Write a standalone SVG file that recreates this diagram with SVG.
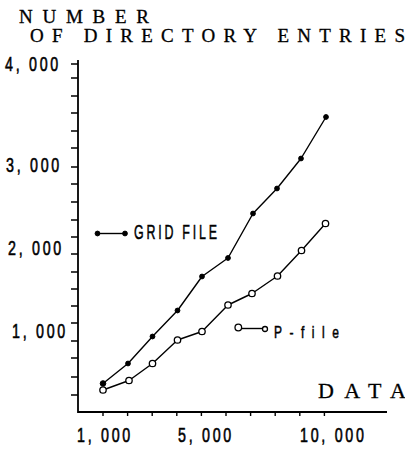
<svg xmlns="http://www.w3.org/2000/svg" width="405" height="450" viewBox="0 0 405 450">
  <style>
    .axis { fill: none; stroke: #000; stroke-width: 1.8; }
    .tick { fill: none; stroke: #000; stroke-width: 1.4; }
    .series { fill: none; stroke: #000; stroke-width: 1.4; stroke-linejoin: round; }
    .dot { fill: #000; stroke: #000; stroke-width: 1; }
    .ring { fill: #fff; stroke: #000; stroke-width: 1.3; }
    .title { font-family: "Liberation Serif", serif; font-size: 19px; fill: #000; stroke: #000; stroke-width: 0.3px; }
    .num { font-family: "Liberation Sans", sans-serif; font-size: 21px; letter-spacing: 4px; fill: #000; stroke: #000; stroke-width: 0.6px; }
    .key { font-family: "Liberation Sans", sans-serif; fill: #000; stroke: #000; stroke-width: 0.5px; }
  </style>

  <!-- axis titles -->
  <g id="titles">
    <text class="title" x="19" y="23" textLength="130" lengthAdjust="spacing">NUMBER</text>
    <text class="title" x="30" y="42" textLength="375" lengthAdjust="spacing">OF  DIRECTORY  ENTRIES</text>
    <text class="title" x="318" y="398" style="font-size:22px" textLength="88" lengthAdjust="spacing">DATA</text>
  </g>

  <!-- axes -->
  <g id="axes">
    <path class="axis" d="M78,60 V412 H387"/>
    <path class="tick" d="M71,64 H78 M71,78 H78 M71,96 H78 M71,113 H78 M71,131 H78 M71,148 H78 M71,167 H78 M71,184 H78 M71,202 H78 M71,220 H78 M71,237 H78 M71,254 H78 M71,272 H78 M71,289 H78 M71,306 H78 M71,323 H78 M71,341 H78 M71,358 H78 M71,377 H78 M71,395 H78"/>
    <path class="tick" d="M103,412 v4 M127.6,412 v4 M152.2,412 v4 M176.8,412 v4 M201.4,412 v4 M226,412 v4 M250.6,412 v4 M275.2,412 v4 M299.8,412 v4 M324.4,412 v4"/>
  </g>

  <!-- tick labels -->
  <g id="y-labels">
    <text class="num" transform="translate(5,71) scale(0.68,1)">4, 000</text>
    <text class="num" transform="translate(6,172) scale(0.68,1)">3, 000</text>
    <text class="num" transform="translate(8,255) scale(0.68,1)">2, 000</text>
    <text class="num" transform="translate(12,338) scale(0.68,1)">1, 000</text>
  </g>
  <g id="x-labels">
    <text class="num" transform="translate(77,442) scale(0.68,1)">1, 000</text>
    <text class="num" transform="translate(178,442) scale(0.68,1)">5, 000</text>
    <text class="num" transform="translate(300,442) scale(0.68,1)">10, 000</text>
  </g>

  <!-- grid file series -->
  <g id="grid-file">
    <polyline class="series" points="103,383.5 128,363.5 152.5,336.5 177.5,310.5 202,276.5 228,258 253,213.5 277,188.5 301,158.5 326,117"/>
    <g class="dot">
      <circle cx="103" cy="383.5" r="2.8"/>
      <circle cx="128" cy="363.5" r="2.4"/>
      <circle cx="152.5" cy="336.5" r="2.4"/>
      <circle cx="177.5" cy="310.5" r="2.4"/>
      <circle cx="202" cy="276.5" r="2.4"/>
      <circle cx="228" cy="258" r="2.4"/>
      <circle cx="253" cy="213.5" r="2.4"/>
      <circle cx="277" cy="188.5" r="2.4"/>
      <circle cx="301" cy="158.5" r="2.4"/>
      <circle cx="326" cy="117" r="2.4"/>
    </g>
  </g>

  <!-- P-file series -->
  <g id="p-file">
    <polyline class="series" points="103,390 129,380.5 152.5,363.5 177.5,340 202,331.5 228,305 252,293.5 277.5,276 301.5,250.5 325.5,223.5"/>
    <g class="ring">
      <circle cx="103" cy="390" r="3.2"/>
      <circle cx="129" cy="380.5" r="3.2"/>
      <circle cx="152.5" cy="363.5" r="3.2"/>
      <circle cx="177.5" cy="340" r="3.2"/>
      <circle cx="202" cy="331.5" r="3.2"/>
      <circle cx="228" cy="305" r="3.2"/>
      <circle cx="252" cy="293.5" r="3.2"/>
      <circle cx="277.5" cy="276" r="3.2"/>
      <circle cx="301.5" cy="250.5" r="3.2"/>
      <circle cx="325.5" cy="223.5" r="3.2"/>
    </g>
  </g>

  <!-- legend -->
  <g id="legend-grid-file">
    <line class="series" x1="97.5" y1="233.5" x2="125" y2="233.5"/>
    <circle class="dot" cx="97.5" cy="233.5" r="2.4"/>
    <circle class="dot" cx="125" cy="233.5" r="2.4"/>
    <text class="key" transform="translate(134,239) scale(0.62,1)" style="font-size:20px; letter-spacing:4.5px">GRID FILE</text>
  </g>
  <g id="legend-p-file">
    <line class="series" x1="241.5" y1="328.5" x2="262.5" y2="328.5"/>
    <circle class="ring" cx="238.3" cy="327.5" r="3.3"/>
    <circle class="ring" cx="265" cy="329" r="2.5"/>
    <text class="key" transform="translate(274,338) scale(0.75,1)" style="font-size:16px; letter-spacing:10px">P-file</text>
  </g>
</svg>
